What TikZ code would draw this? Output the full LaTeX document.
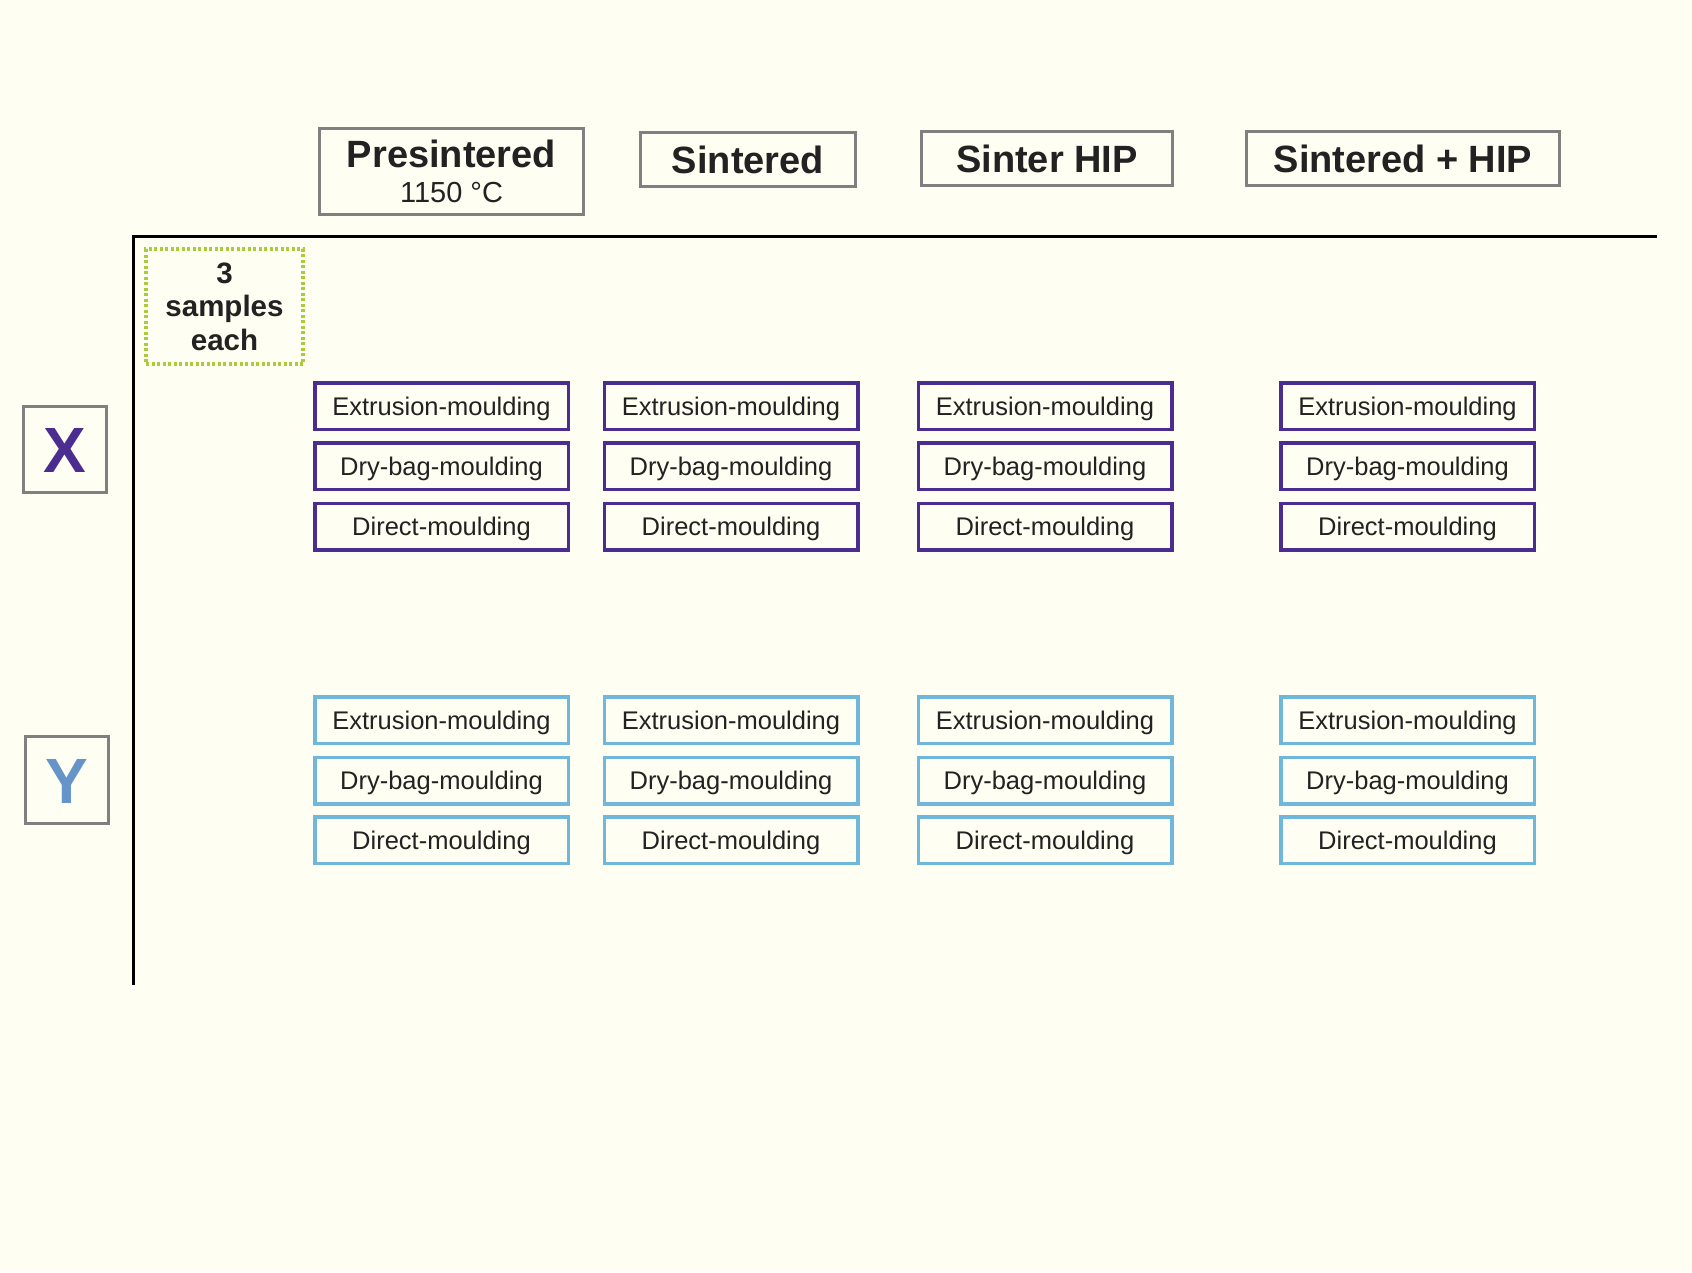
\documentclass[tikz,border=0pt]{standalone}
\usepackage{fontspec}
\setmainfont{Liberation Sans}
\definecolor{bg}{HTML}{FFFEF2}
\definecolor{txt}{HTML}{222222}
\definecolor{hgrey}{HTML}{808080}
\definecolor{purp}{HTML}{4B2D91}
\definecolor{lblue}{HTML}{6FB7DB}
\definecolor{ycol}{HTML}{6595C8}
\definecolor{lgreen}{HTML}{A9CC3B}
\begin{document}
\begin{tikzpicture}[x=1pt,y=-1pt,
  hdrbase/.style={draw=hgrey, line width=3pt, inner sep=0pt, text=txt,
    font=\fontsize{38}{35}\selectfont\bfseries},
  hdr/.style={hdrbase, text height=27.5pt, text depth=0pt, minimum height=54pt},
  mbox/.style={line width=3.5pt, inner sep=0pt, minimum width=253.5pt, minimum height=46.5pt,
    text=txt, font=\fontsize{25.5}{30}\selectfont, text height=18.3pt, text depth=0pt},
  xbox/.style={mbox, draw=purp},
  ybox/.style={mbox, draw=lblue},
  letterbox/.style={draw=hgrey, line width=3pt, inner sep=0pt, minimum width=83pt,
    font=\fontsize{64}{70}\selectfont\bfseries, text height=46pt, text depth=0pt},
  axis/.style={line width=3pt, black}]
\useasboundingbox (0,0) rectangle (1692,1272);
\fill[bg] (0,0) rectangle (1692,1272);

% headers
\node[hdrbase, minimum width=264pt, minimum height=86pt, align=center] (h1) at (451.5,171.5)
  {Presintered\\{\fontsize{29}{35}\selectfont\mdseries 1150 °C}};
\node[hdr, minimum width=215pt] (h2) at (748,159.5) {Sintered};
\node[hdr, minimum width=251pt] (h3) at (1047,158.5) {Sinter HIP};
\node[hdr, minimum width=313pt] (h4) at (1403,158.5) {Sintered + HIP};

% axes
\coordinate (corner) at (133,236);
\coordinate (hend) at (1657,236);
\coordinate (vend) at (133,985);
\draw[axis] (hend) -- (corner) -- (vend);

% samples note
\node[draw=lgreen, line width=4pt, dash pattern=on 3pt off 2.5pt, minimum width=157pt, minimum height=115pt,
  inner sep=0pt, align=center, text=txt, font=\fontsize{29.5}{33.5}\selectfont\bfseries] (note) at (224.5,306.5)
  {3\\samples\\each};

% row labels
\node[letterbox, minimum height=86pt, text=purp] (X) at (65,449.5) {X};
\node[letterbox, minimum height=87pt, text=ycol] (Y) at (67,780) {Y};

% moulding boxes
\foreach \c/\cx in {1/441.5,2/731,3/1045,4/1407.5} {
  \node[xbox] (x\c e) at (\cx,406) {Extrusion-moulding};
  \node[xbox] (x\c d) at (\cx,466) {Dry-bag-moulding};
  \node[xbox] (x\c m) at (\cx,526.5) {Direct-moulding};
  \node[ybox] (y\c e) at (\cx,720) {Extrusion-moulding};
  \node[ybox] (y\c d) at (\cx,780.5) {Dry-bag-moulding};
  \node[ybox] (y\c m) at (\cx,840) {Direct-moulding};
}
\end{tikzpicture}
\end{document}
